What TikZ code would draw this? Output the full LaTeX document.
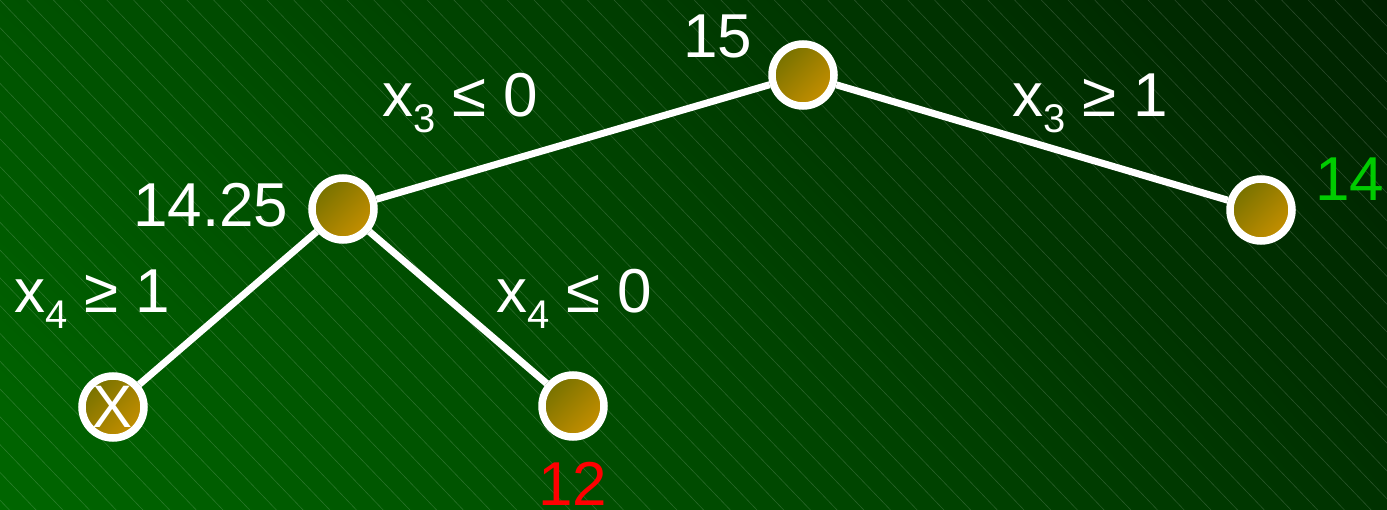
\documentclass[tikz,border=0pt]{standalone}
\usepackage{fontspec}
\setmainfont{Liberation Sans}
\usetikzlibrary{calc,shadings}
\definecolor{bgUL}{RGB}{0,82,0}
\definecolor{bgLL}{RGB}{0,102,0}
\definecolor{bgUR}{RGB}{0,34,0}
\definecolor{bgLR}{RGB}{0,50,0}
\definecolor{nUL}{RGB}{100,108,0}
\definecolor{nLR}{RGB}{214,150,0}
\definecolor{nMid}{RGB}{160,128,0}
\definecolor{goodgreen}{RGB}{0,204,0}
\newcommand\mysub[1]{\raisebox{-16pt}{\fontsize{40}{40}\selectfont #1}}
\tikzset{
  treenode/.style={circle, draw=white, line width=7.5pt, minimum size=62pt, inner sep=0pt,
    shade, upper left=nUL, lower right=nLR, upper right=nMid, lower left=nMid,
    text=white, font=\fontsize{60}{60}\selectfont},
  edge/.style={draw=white, line width=7pt},
  lbl/.style={anchor=base west, inner sep=0pt, text=white, font=\fontsize{62}{72}\selectfont},
}
\begin{document}
\begin{tikzpicture}[x=1pt, y=-1pt]
\useasboundingbox (0,0) rectangle (1387,510);
\shade[upper left=bgUL, lower left=bgLL, upper right=bgUR, lower right=bgLR] (0,0) rectangle (1387,510);
\begin{scope}
\clip (0,0) rectangle (1387,510);
\foreach \i in {-20,...,53} {
  \draw[white, opacity=0.16, line width=0.6pt] (\i*26.7,0) -- ++(490,510);
}
\end{scope}
% nodes
\node[treenode] (root) at (803,75) {};
\node[treenode] (left) at (343,209) {};
\node[treenode] (right) at (1261,210) {};
\node[treenode] (ll) at (113,407) {\raisebox{-0.1ex}{X}};
\node[treenode] (lr) at (573,406) {};
% edges
\draw[edge] (root) -- (left);
\draw[edge] (root) -- (right);
\draw[edge] (left) -- (ll);
\draw[edge] (left) -- (lr);
% labels
\node[lbl] (t15) at (683,58) {15};
\node[lbl] (e1) at (382,117) {x\mysub{3} ≤ 0};
\node[lbl] (e2) at (1012,117) {x\mysub{3} ≥ 1};
\node[lbl] (t1425) at (133,227) {14.25};
\node[lbl, text=goodgreen] (t14) at (1315,201) {14};
\node[lbl] (e3) at (14,313) {x\mysub{4} ≥ 1};
\node[lbl] (e4) at (496,313) {x\mysub{4} ≤ 0};
\node[lbl, text=red] (t12) at (538,505) {12};
\end{tikzpicture}
\end{document}
